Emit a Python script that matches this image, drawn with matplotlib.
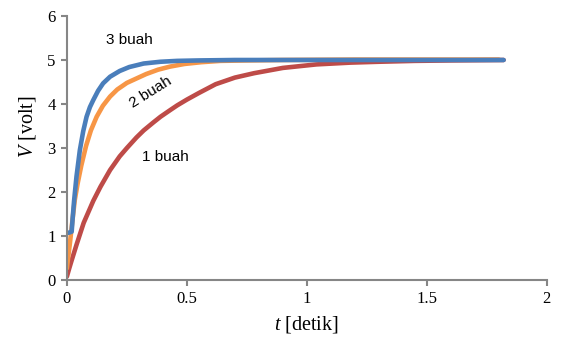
import matplotlib
matplotlib.use('Agg')
from matplotlib import pyplot as plt

plt.rcParams['mathtext.fontset'] = 'custom'
plt.rcParams['mathtext.it'] = 'Liberation Serif:italic'
plt.rcParams['mathtext.rm'] = 'Liberation Serif'

# Data
t_3buah = [0, 0.01, 0.02, 0.024, 0.03, 0.04, 0.054, 0.068, 0.082, 0.096, 0.11, 0.13, 0.151,
           0.18, 0.22, 0.26, 0.32, 0.39, 0.46, 0.55, 0.7, 0.9, 1.2, 1.5, 1.82]
v_3buah = [1.07, 1.08, 1.1, 1.4, 1.8, 2.35, 2.95, 3.38, 3.71, 3.93, 4.09, 4.3, 4.47,
           4.62, 4.75, 4.84, 4.92, 4.96, 4.98, 4.99, 5.0, 5.0, 5.0, 5.0, 5.0]

t_2buah = [0, 0.005, 0.0125, 0.022, 0.033, 0.045, 0.06, 0.08, 0.1, 0.124, 0.15, 0.18, 0.21,
           0.25, 0.29, 0.33, 0.38, 0.43, 0.49, 0.56, 0.64, 0.75, 0.9, 1.2, 1.5, 1.8]
v_2buah = [0.27, 0.5, 0.83, 1.3, 1.82, 2.2, 2.6, 3.05, 3.4, 3.71, 3.96, 4.17, 4.33,
           4.48, 4.58, 4.68, 4.78, 4.85, 4.91, 4.95, 4.98, 4.99, 5.0, 5.01, 5.01, 5.01]

t_1buah = [0, 0.01, 0.02, 0.04, 0.07, 0.11, 0.14, 0.18, 0.22, 0.25, 0.29, 0.32, 0.36, 0.39, 0.43,
           0.46, 0.5, 0.55, 0.62, 0.7, 0.78, 0.9, 1.04, 1.18, 1.3, 1.45, 1.6, 1.82]
v_1buah = [0.08, 0.27, 0.45, 0.8, 1.3, 1.8, 2.12, 2.5, 2.81, 3.0, 3.24, 3.4, 3.58, 3.71, 3.86,
           3.97, 4.1, 4.25, 4.45, 4.6, 4.7, 4.82, 4.9, 4.94, 4.96, 4.98, 4.99, 5.0]

x_ticks = [0, 0.5, 1, 1.5, 2]
x_labels = ['0', '0.5', '1', '1.5', '2']
y_ticks = [0, 1, 2, 3, 4, 5, 6]

warna_merah = '#BE4B48'
warna_oranye = '#F79646'
warna_biru = '#4A7EBB'
abu = '#868686'

fig = plt.figure(figsize=(5.62, 3.55), dpi=100)
ax = fig.add_axes([0.119, 0.211, 0.854, 0.744])

ax.plot(t_1buah, v_1buah, color=warna_merah, lw=3.3, solid_capstyle='round')
ax.plot(t_2buah, v_2buah, color=warna_oranye, lw=3.3, solid_capstyle='round')
ax.plot(t_3buah, v_3buah, color=warna_biru, lw=3.3, solid_capstyle='round')

ax.set_xlim(0, 2)
ax.set_ylim(0, 6)
ax.set_xticks(x_ticks)
ax.set_xticklabels(x_labels)
ax.set_yticks(y_ticks)

for s in ['top', 'right']:
    ax.spines[s].set_visible(False)
for s in ['left', 'bottom']:
    ax.spines[s].set_color(abu)
    ax.spines[s].set_linewidth(1.5)
ax.tick_params(axis='both', direction='out', length=4, width=1.5, color=abu,
               labelsize=12, pad=4)
for lbl in ax.get_xticklabels() + ax.get_yticklabels():
    lbl.set_family('Liberation Serif')

ax.set_xlabel(r'$t$ [detik]', family='Liberation Serif', fontsize=14.5, labelpad=5)
ax.set_ylabel(r'$V$ [volt]', family='Liberation Serif', fontsize=14.5)
ax.yaxis.set_label_coords(-0.06, 0.58)

huruf = 'Liberation Sans'
ax.text(0.26, 5.45, '3 buah', family=huruf, fontsize=11, ha='center', va='center')
ax.text(0.35, 4.27, '2 buah', family=huruf, fontsize=11, ha='center', va='center',
        rotation=32)
ax.text(0.41, 2.8, '1 buah', family=huruf, fontsize=11, ha='center', va='center')

fig.savefig('out.png', dpi=100)
